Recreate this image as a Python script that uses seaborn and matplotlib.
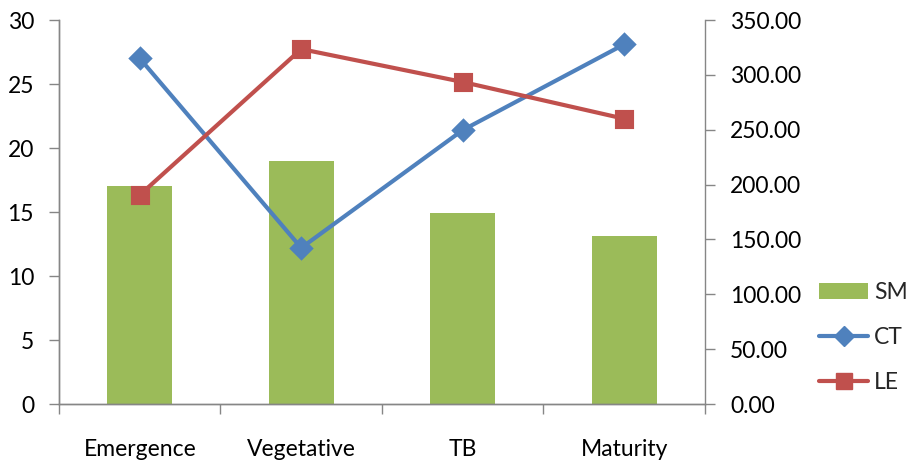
import matplotlib
matplotlib.use('Agg')
import matplotlib.pyplot as plt
import seaborn as sns
from matplotlib.lines import Line2D
from matplotlib.patches import Patch
from matplotlib.ticker import FormatStrFormatter, FixedLocator

# Data
stages = ['Emergence', 'Vegetative', 'TB', 'Maturity']
sm = [17.0, 19.0, 14.9, 13.1]        # bars, left axis
ct = [27.0, 12.2, 21.4, 28.1]        # blue line, left axis
le = [190.5, 323.5, 293.5, 260.0]    # red line, right axis

green = '#9BBB59'
blue = '#4F81BD'
red = '#C0504D'
grey = '#868686'

sns.set_style('white')
plt.rcParams['font.family'] = ['Lato', 'DejaVu Sans']
plt.rcParams['font.size'] = 16.5

fig = plt.figure(figsize=(9.12, 4.62), dpi=100)
ax = fig.add_axes([0.0647, 0.1255, 0.7083, 0.8312])
ax2 = ax.twinx()

# Bars and CT on the primary axis
sns.barplot(x=stages, y=sm, ax=ax, color=green, width=0.4, saturation=1,
            edgecolor='none', zorder=2)
sns.pointplot(x=stages, y=ct, ax=ax, color=blue, marker='D', markersize=10,
              linewidth=3, errorbar=None, zorder=3)

# LE on the secondary axis
sns.pointplot(x=stages, y=le, ax=ax2, color=red, marker='s', markersize=12,
              linewidth=3, errorbar=None, zorder=3)

ax.set_xlim(-0.5, len(stages) - 0.5)
ax.set_ylim(0, 30)
ax2.set_ylim(0, 350)
ax.set_yticks(range(0, 31, 5))
ax2.set_yticks(range(0, 351, 50))
ax2.yaxis.set_major_formatter(FormatStrFormatter('%.2f'))

ax.set_xlabel('')
ax.set_ylabel('')
ax2.set_xlabel('')
ax2.set_ylabel('')

# Category ticks between groups, labels centred
ax.xaxis.set_minor_locator(FixedLocator([i - 0.5 for i in range(len(stages) + 1)]))
ax.tick_params(axis='x', which='major', length=0, pad=25, labelsize=16.5, colors='#000000')
ax.tick_params(axis='x', which='minor', length=7, width=1, color=grey, bottom=True)
ax.tick_params(axis='y', length=7, width=1, color=grey, left=True, pad=11,
               labelsize=16.5, labelcolor='#000000')
ax2.tick_params(axis='y', length=7, width=1, color=grey, right=True, pad=11,
                labelsize=16.5, labelcolor='#000000')

for a in (ax, ax2):
    for side in ['left', 'right', 'bottom']:
        a.spines[side].set_color(grey)
        a.spines[side].set_linewidth(1)
    a.spines['top'].set_visible(False)
    a.grid(False)
ax.spines['right'].set_visible(False)

handles = [
    Patch(facecolor=green, edgecolor='none', label='SM'),
    Line2D([0], [0], color=blue, lw=3, marker='D', markersize=10, label='CT'),
    Line2D([0], [0], color=red, lw=3, marker='s', markersize=12, label='LE'),
]
fig.legend(handles=handles, loc='center left', bbox_to_anchor=(0.898, 0.27),
           frameon=False, handlelength=2.15, handletextpad=0.25, borderpad=0,
           borderaxespad=0, labelspacing=1.05, fontsize=16.5)

fig.savefig('out.png', dpi=100)
